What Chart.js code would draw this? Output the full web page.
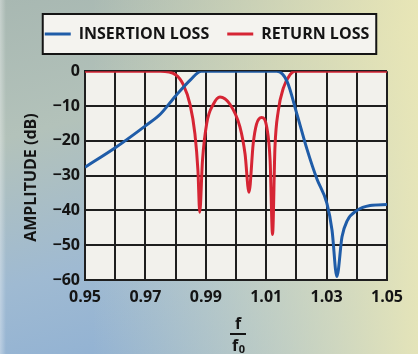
<!DOCTYPE html>
<html>
<head>
<meta charset="utf-8">
<script src="https://cdn.jsdelivr.net/npm/chart.js@4.4.0/dist/chart.umd.min.js"></script>
<style>
  html, body { margin: 0; padding: 0; }
  body {
    width: 418px; height: 354px; overflow: hidden;
    background:
      linear-gradient(to right, rgba(255,255,255,0.35) 0, rgba(255,255,255,0) 6px),
      linear-gradient(165deg, #a8b8b2 0%, #b3c2ba 30%, #9fbad2 62%, #88acd4 100%);
  }
  #wrap { position: relative; width: 418px; height: 354px; }
  #tint {
    position: absolute; inset: 0;
    background: linear-gradient(to right, rgba(240,235,180,0) 22%, rgba(238,234,182,0.9) 100%);
  }
  canvas { position: absolute; left: 0; top: 0; }
</style>
</head>
<body>
<div id="wrap">
  <div id="tint"></div>
  <canvas id="chart" width="418" height="354"></canvas>
</div>
<script>
// insertion loss (blue)
const ilFreq = [0.95, 0.96, 0.97, 0.975, 0.98, 0.985, 0.9885, 1.0, 1.0135, 1.0169, 1.0202, 1.0235, 1.0268, 1.0301, 1.0318, 1.0334, 1.0351, 1.0368, 1.0401, 1.0444, 1.05];
const ilDb   = [-27.6, -22, -15.7, -12.3, -7.1, -2.4, 0, 0, 0, -2.9, -12.4, -22.4, -31, -38, -45.7, -59, -47.6, -43, -40, -38.6, -38.3];

// return loss (red)
const rlFreq = [0.95, 0.975, 0.98, 0.9825, 0.9848, 0.9864, 0.9874, 0.988, 0.9889, 0.9903, 0.9925, 0.9947, 0.998, 1.0013, 1.003, 1.0043, 1.0057, 1.0068, 1.0085, 1.0102, 1.0113, 1.0121, 1.0129, 1.014, 1.0157, 1.0179, 1.0195, 1.05];
const rlDb   = [0, 0, -1, -3.8, -9.6, -18, -28.6, -40.5, -25.7, -15, -9.5, -7.4, -9.5, -16, -23.8, -34.8, -20.8, -15.2, -13.3, -16.2, -25.7, -46.9, -21.9, -11.4, -4.8, -1, 0, 0];

const xTicks = [0.95, 0.96, 0.97, 0.98, 0.99, 1.0, 1.01, 1.02, 1.03, 1.04, 1.05];
const xLabeled = ["0.95", "0.97", "0.99", "1.01", "1.03", "1.05"];
const yTicks = [0, -10, -20, -30, -40, -50, -60];

const toPoints = (xs, ys) => xs.map((x, i) => ({ x: x, y: ys[i] }));
const FONT = "'Open Sans', sans-serif";
const INK = "#141414";
const LEGEND_SHIFT = 11;

// plot background, legend frame, y-axis title and the f/f0 fraction
const decor = {
  id: "decor",
  afterLayout(chart) {
    // nudge the legend right so it sits over the plot like the original
    chart.legend.left += LEGEND_SHIFT;
    chart.legend.right += LEGEND_SHIFT;
  },
  beforeDraw(chart) {
    const ctx = chart.ctx;
    const a = chart.chartArea;
    ctx.save();
    ctx.fillStyle = "#f2f1ec";
    ctx.fillRect(a.left, a.top, a.right - a.left, a.bottom - a.top);

    const boxes = chart.legend.legendHitBoxes;
    if (boxes && boxes.length) {
      const first = boxes[0], last = boxes[boxes.length - 1];
      const l = first.left - 13 + LEGEND_SHIFT;
      const r = last.left + last.width - 4 + LEGEND_SHIFT;
      const mid = first.top + first.height / 2;
      ctx.fillStyle = "#f4f3ef";
      ctx.fillRect(l, mid - 20, r - l, 40);
      ctx.lineWidth = 2;
      ctx.strokeStyle = INK;
      ctx.strokeRect(l, mid - 20, r - l, 40);
    }
    ctx.restore();
  },
  afterDraw(chart) {
    const ctx = chart.ctx;
    const a = chart.chartArea;
    ctx.save();
    ctx.fillStyle = INK;
    ctx.textAlign = "center";
    ctx.textBaseline = "middle";
    // y title
    ctx.save();
    ctx.translate(31, (a.top + a.bottom) / 2 + 2);
    ctx.rotate(-Math.PI / 2);
    ctx.font = "bold 16px " + FONT;
    ctx.fillText("AMPLITUDE (dB)", 0, 0);
    ctx.restore();
    // x title as a fraction
    const cx = (a.left + a.right) / 2 + 2;
    ctx.font = "bold 16px " + FONT;
    ctx.fillText("f", cx, a.bottom + 44);
    ctx.fillRect(cx - 8, a.bottom + 53, 16, 2);
    ctx.fillText("f", cx - 3, a.bottom + 66);
    ctx.font = "bold 11px " + FONT;
    ctx.fillText("0", cx + 4, a.bottom + 70);
    ctx.restore();
  }
};

new Chart(document.getElementById("chart"), {
  type: "scatter",
  data: {
    datasets: [
      {
        label: "INSERTION LOSS",
        data: toPoints(ilFreq, ilDb),
        showLine: true,
        borderColor: "#1f5ca8",
        backgroundColor: "#1f5ca8",
        borderWidth: 3,
        pointRadius: 0,
        cubicInterpolationMode: "monotone",
        pointStyle: "line",
      },
      {
        label: "RETURN LOSS",
        data: toPoints(rlFreq, rlDb),
        showLine: true,
        borderColor: "#d62534",
        backgroundColor: "#d62534",
        borderWidth: 3,
        pointRadius: 0,
        cubicInterpolationMode: "monotone",
        pointStyle: "line",
      },
    ],
  },
  options: {
    responsive: false,
    animation: false,
    layout: { padding: { top: 8, right: 31, left: 5, bottom: 0 } },
    plugins: {
      tooltip: { enabled: false },
      legend: {
        position: "top",
        labels: {
          usePointStyle: true,
          pointStyleWidth: 26,
          padding: 18,
          color: INK,
          font: { family: FONT, size: 16, weight: "bold" },
        },
      },
      // empty spacer between the legend and the plot
      title: {
        display: true,
        text: " ",
        weight: 0,
        font: { size: 1 },
        padding: { top: 0, bottom: 18 },
      },
    },
    scales: {
      x: {
        type: "linear",
        min: 0.95,
        max: 1.05,
        afterBuildTicks: (s) => { s.ticks = xTicks.map((v) => ({ value: v })); },
        afterFit: (s) => { s.height = 74; },
        grid: { color: "#1e1e1e", lineWidth: 2, drawTicks: false },
        border: { color: "#1e1e1e", width: 2 },
        ticks: {
          autoSkip: false,
          maxRotation: 0,
          padding: 8,
          color: INK,
          font: { family: FONT, size: 16, weight: "bold" },
          callback: (v) => { const t = v.toFixed(2); return xLabeled.includes(t) ? t : ""; },
        },
      },
      y: {
        min: -60,
        max: 0,
        afterBuildTicks: (s) => { s.ticks = yTicks.map((v) => ({ value: v })); },
        afterFit: (s) => { s.width = 80; },
        grid: { color: "#1e1e1e", lineWidth: 2, drawTicks: false },
        border: { color: "#1e1e1e", width: 2 },
        ticks: {
          padding: 5,
          color: INK,
          font: { family: FONT, size: 16, weight: "bold" },
          callback: (v) => (v < 0 ? "\u2212" + Math.abs(v) : String(v)),
        },
      },
    },
  },
  plugins: [decor],
});
</script>
</body>
</html>
